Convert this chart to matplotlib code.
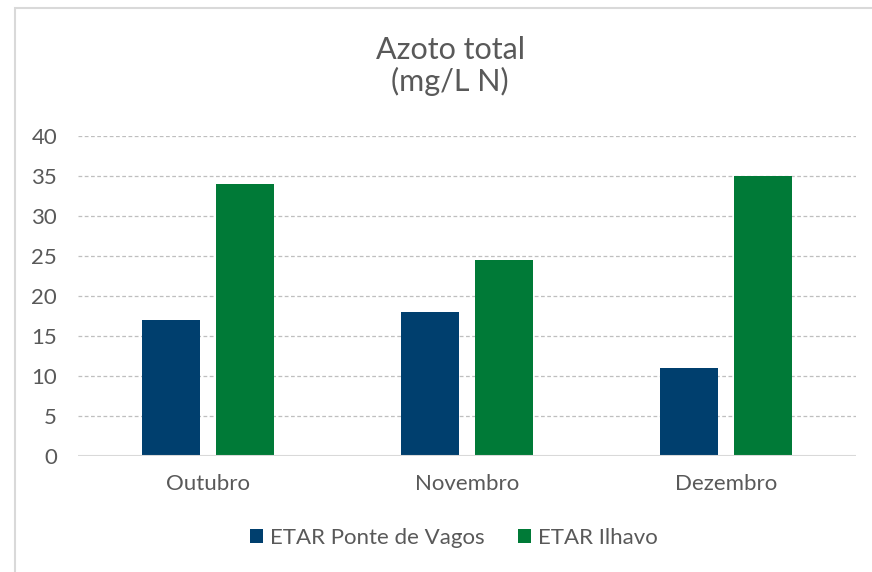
import numpy as np
import matplotlib.pyplot as plt
from matplotlib.patches import Rectangle

# Data
months = ["Outubro", "Novembro", "Dezembro"]
ponte_vagos = [17, 18, 11]
ilhavo = [34, 24.5, 35]
series_names = ["ETAR Ponte de Vagos", "ETAR Ilhavo"]
colors = ["#003f6e", "#007a37"]

plt.rcParams["font.family"] = ["Lato", "DejaVu Sans"]
txt = "#595959"

fig = plt.figure(figsize=(8.72, 5.72), dpi=100)
ax = fig.add_axes([78 / 872, 1 - 456 / 572, (856 - 78) / 872, 320 / 572])

# chart border (cropped on right/bottom)
fig.patches.append(Rectangle((15 / 872, -0.05), 1.0, 1 - 8 / 572 + 0.05,
                             transform=fig.transFigure, fill=False,
                             edgecolor="#d9d9d9", linewidth=1.5))

x = np.arange(len(months))
w = 0.224
off = 0.143
ax.bar(x - off, ponte_vagos, w, color=colors[0], label=series_names[0], zorder=3)
ax.bar(x + off, ilhavo, w, color=colors[1], label=series_names[1], zorder=3)

ax.set_xlim(-0.5, 2.5)
ax.set_ylim(0, 40)
ax.set_yticks(range(0, 41, 5))
ax.yaxis.grid(True, linestyle=(0, (3, 2)), color="#bfbfbf", linewidth=0.9, zorder=0)
ax.axhline(0, color="#d9d9d9", linewidth=1.5, zorder=4)
for s in ax.spines.values():
    s.set_visible(False)
ax.tick_params(length=0, labelcolor=txt, labelsize=16)
ax.tick_params(axis="y", pad=15)
ax.tick_params(axis="x", pad=13)
ax.set_xticks(x)
ax.set_xticklabels(months)

fig.text(450 / 872, 1 - 66 / 572, "Azoto total\n(mg/L N)", ha="center", va="center",
         fontsize=22, color=txt, linespacing=1.1)

leg = fig.legend(loc="center", bbox_to_anchor=(454 / 872, 1 - 538 / 572), ncol=2,
                 frameon=False, fontsize=16, handlelength=0.6, handleheight=0.6,
                 handletextpad=0.3, columnspacing=1.5)
for t in leg.get_texts():
    t.set_color(txt)

fig.savefig("out.png", dpi=100)
